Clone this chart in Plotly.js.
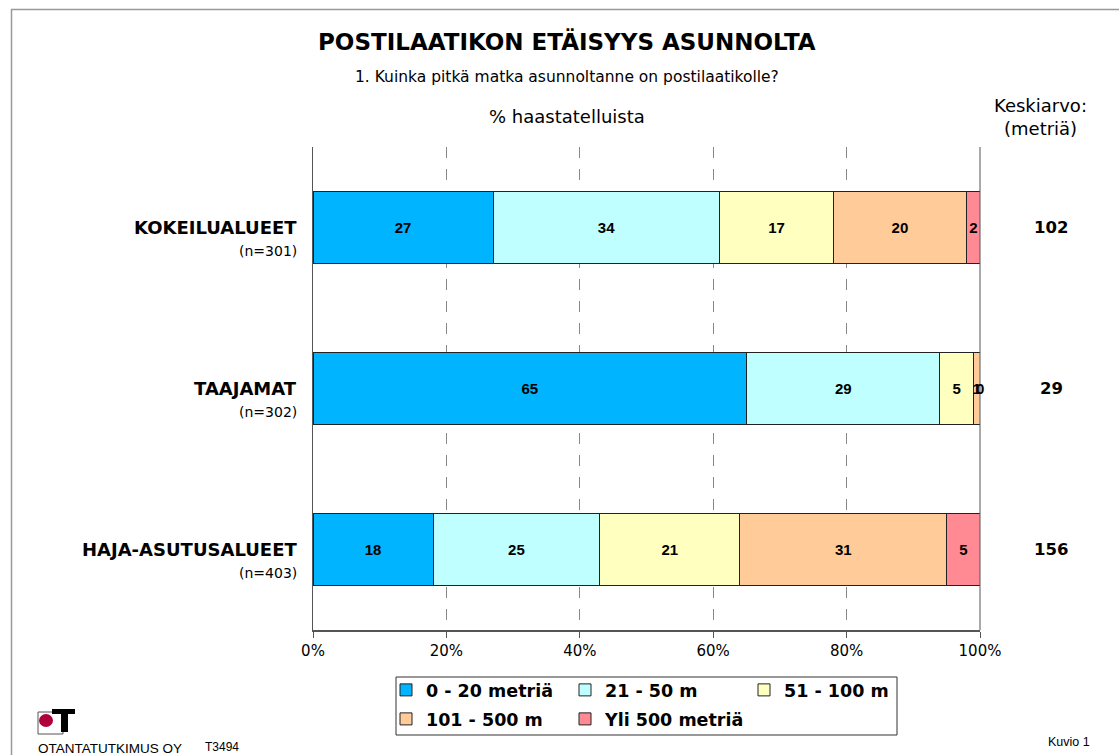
<!DOCTYPE html>
<html>
<head>
<meta charset="utf-8">
<script src="https://cdn.plot.ly/plotly-3.0.1.min.js"></script>
<style>html,body{margin:0;padding:0;background:#fff;}#chart{width:1119px;height:755px;}</style>
</head>
<body>
<div id="chart"></div>
<script>
const categories = ['KOKEILUALUEET', 'TAAJAMAT', 'HAJA-ASUTUSALUEET'];
const sampleSizes = ['(n=301)', '(n=302)', '(n=403)'];
const averages = ['102', '29', '156'];
const seriesNames = ['0 - 20 metriä', '21 - 50 m', '51 - 100 m', '101 - 500 m', 'Yli 500 metriä'];
const s0_20 = [27, 65, 18];
const s21_50 = [34, 29, 25];
const s51_100 = [17, 5, 21];
const s101_500 = [20, 1, 31];
const sYli500 = [2, 0, 5];
const xTickVals = [0, 20, 40, 60, 80, 100];
const xTickText = ['0%', '20%', '40%', '60%', '80%', '100%'];

const seriesValues = [s0_20, s21_50, s51_100, s101_500, sYli500];
const colors = ['#00B4FF', '#C0FFFF', '#FFFFC0', '#FFCC99', '#FF8A94'];

const W = 1119, H = 755;
const M = {l: 313, r: 139, t: 147, b: 125};
const PW = W - M.l - M.r, PH = H - M.t - M.b;
const px = x => (x - M.l) / PW;
const py = y => (H - M.b - y) / PH;

const FA = 'Liberation Sans, Arial, sans-serif';
const FD = 'DejaVu Sans, sans-serif';

const traces = seriesValues.map((vals, i) => ({
  type: 'bar',
  orientation: 'h',
  name: '<b>' + seriesNames[i] + '</b>',
  legend: i < 3 ? 'legend' : 'legend2',
  y: categories,
  x: vals,
  width: 0.45,
  text: vals.map(v => '<b>' + v + '</b>'),
  textposition: 'inside',
  insidetextanchor: 'middle',
  textangle: 0,
  textfont: {family: FA, size: 15, color: '#000'},
  marker: {color: colors[i], line: {color: '#222', width: 1}},
  hoverinfo: 'x+name'
}));

const annotations = [];
// labels for zero-width segments (not drawn by the bar text engine)
categories.forEach((c, ci) => {
  let cum = 0;
  seriesValues.forEach(vals => {
    if (vals[ci] === 0) {
      annotations.push({xref: 'x', yref: 'y', x: cum, y: c, xanchor: 'center', yanchor: 'middle',
        text: '<b>0</b>', showarrow: false, font: {family: FA, size: 15, color: '#000'}});
    }
    cum += vals[ci];
  });
});
categories.forEach((c, i) => {
  annotations.push({xref: 'paper', yref: 'y', x: px(299), y: c, xanchor: 'right', yanchor: 'middle',
    text: '<b>' + c + '</b>', showarrow: false, font: {family: FD, size: 18, color: '#000'}});
  annotations.push({xref: 'paper', yref: 'y', x: px(299), y: c, yshift: -23, xanchor: 'right', yanchor: 'middle',
    text: sampleSizes[i], showarrow: false, font: {family: FD, size: 14, color: '#000'}});
  annotations.push({xref: 'paper', yref: 'y', x: px(1051), y: c, xanchor: 'center', yanchor: 'middle',
    text: '<b>' + averages[i] + '</b>', showarrow: false, font: {family: FD, size: 16.5, color: '#000'}});
});
const addText = (x, y, text, size, family, anchor) => annotations.push({
  xref: 'paper', yref: 'paper', x: px(x), y: py(y), xanchor: anchor || 'center', yanchor: 'middle',
  text: text, showarrow: false, font: {family: family, size: size, color: '#000'}});
addText(567, 42, '<b>POSTILAATIKON ETÄISYYS ASUNNOLTA</b>', 23, FD);
addText(567, 77, '1. Kuinka pitkä matka asunnoltanne on postilaatikolle?', 15.5, FD);
addText(567, 116, '% haastatelluista', 18, FD);
addText(1040, 105, 'Keskiarvo:', 18, FD);
addText(1040, 129, '(metriä)', 18, FD);
addText(1069, 742, 'Kuvio 1', 12.5, FA);
addText(36, 748, 'OTANTATUTKIMUS OY', 13.5, FA, 'left');
addText(203, 747, 'T3494', 12, FA, 'left');

const shapes = [
  // page frame
  {type: 'rect', xref: 'paper', yref: 'paper', x0: px(11.5), x1: px(1130), y0: py(9.5), y1: py(770), line: {color: '#999', width: 1.5}, layer: 'below'},
  // right border of plot area
  {type: 'line', xref: 'paper', yref: 'paper', x0: 1, x1: 1, y0: 0, y1: 1, line: {color: '#555', width: 1}},
  // legend frame
  {type: 'rect', xref: 'paper', yref: 'paper', x0: px(396), x1: px(897), y0: py(677), y1: py(735), line: {color: '#333', width: 1}},
  // logo
  {type: 'rect', xref: 'paper', yref: 'paper', x0: px(38), x1: px(63), y0: py(712), y1: py(734), line: {color: '#555', width: 1}, fillcolor: '#fff'},
  {type: 'circle', xref: 'paper', yref: 'paper', x0: px(39), x1: px(53), y0: py(714), y1: py(727), line: {width: 0}, fillcolor: '#B0003A'},
  {type: 'rect', xref: 'paper', yref: 'paper', x0: px(52), x1: px(75), y0: py(709), y1: py(714), line: {width: 0}, fillcolor: '#000'},
  {type: 'rect', xref: 'paper', yref: 'paper', x0: px(61), x1: px(68), y0: py(709), y1: py(732), line: {width: 0}, fillcolor: '#000'}
];

const legendBase = {
  orientation: 'h', traceorder: 'normal',
  xref: 'container', yref: 'container',
  xanchor: 'left', yanchor: 'middle',
  borderwidth: 0, bgcolor: 'rgba(0,0,0,0)',
  font: {family: FD, size: 17.5, color: '#000'},
  entrywidth: 134, entrywidthmode: 'pixels', itemwidth: 30
};

const layout = {
  width: W, height: H,
  margin: M,
  paper_bgcolor: '#fff', plot_bgcolor: '#fff',
  barmode: 'stack',
  showlegend: true,
  uniformtext: {minsize: 15, mode: 'show'},
  font: {family: FA, color: '#000'},
  xaxis: {
    range: [0, 100], tickvals: xTickVals, ticktext: xTickText,
    showgrid: true, gridcolor: '#888', griddash: '11px,11px', gridwidth: 1,
    showline: true, linecolor: '#555', linewidth: 1.5,
    ticks: 'outside', ticklen: 6, tickcolor: '#555',
    tickfont: {family: FD, size: 15, color: '#000'}, zeroline: false, fixedrange: true
  },
  yaxis: {
    categoryorder: 'array', categoryarray: categories.slice().reverse(),
    range: [-0.5, 2.5], showticklabels: false, showgrid: false, zeroline: false,
    showline: true, linecolor: '#555', linewidth: 1.5, ticks: '', fixedrange: true
  },
  legend: Object.assign({}, legendBase, {x: 386 / W, y: (H - 690) / H}),
  legend2: Object.assign({}, legendBase, {x: 386 / W, y: (H - 719) / H}),
  annotations: annotations,
  shapes: shapes
};

Plotly.newPlot('chart', traces, layout, {displayModeBar: false, staticPlot: true});
</script>
</body>
</html>
